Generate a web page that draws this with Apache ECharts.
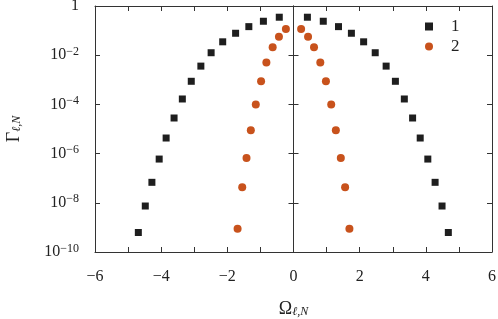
<!DOCTYPE html>
<html>
<head>
<meta charset="utf-8">
<style>
  html, body { margin: 0; padding: 0; background: #fff; }
  #chart { width: 498px; height: 319px; }
</style>
<script src="https://cdn.jsdelivr.net/npm/echarts@6/dist/echarts.min.js"></script>
</head>
<body>
<div id="chart"></div>
<script>
// series 1 (squares)
var x1 = [-4.69, -4.48, -4.28, -4.06, -3.85, -3.61, -3.36, -3.09, -2.80, -2.49, -2.14, -1.75, -1.35, -0.91, -0.43,
  0.42, 0.90, 1.36, 1.75, 2.12, 2.47, 2.80, 3.08, 3.35, 3.60, 3.83, 4.06, 4.28, 4.49, 4.68]
var y1 = [6.2e-10, 7.4e-9, 6.8e-8, 6.0e-7, 4.3e-6, 2.8e-5, 1.66e-4, 8.7e-4, 3.6e-3, 1.26e-2, 3.5e-2, 7.8e-2, 0.145, 0.24, 0.35,
  0.35, 0.24, 0.145, 7.8e-2, 3.5e-2, 1.26e-2, 3.6e-3, 8.7e-4, 1.66e-4, 2.8e-5, 4.3e-6, 6.0e-7, 6.8e-8, 7.4e-9, 6.2e-10]
// series 2 (circles)
var x2 = [-1.69, -1.55, -1.42, -1.29, -1.14, -0.98, -0.82, -0.63, -0.44, -0.23,
  0.23, 0.44, 0.62, 0.81, 0.98, 1.14, 1.28, 1.43, 1.56, 1.69]
var y2 = [8.9e-10, 4.3e-8, 6.6e-7, 8.9e-6, 9.8e-5, 8.7e-4, 5.1e-3, 2.1e-2, 5.6e-2, 0.117,
  0.117, 5.6e-2, 2.1e-2, 5.1e-3, 8.7e-4, 9.8e-5, 8.9e-6, 6.6e-7, 4.3e-8, 8.9e-10]
var seriesNames = ['1', '2']
var xTicks = [-6, -4, -2, 0, 2, 4, 6]

var font = 'Liberation Serif'
var axisColor = '#333'

function pairs(xs, ys) {
  var out = []
  for (var i = 0; i < xs.length; i++) out.push([xs[i], ys[i]])
  return out
}

function yLabel(v) {
  var e = Math.round(Math.log10(v))
  if (e === 0) return '{b|1}'
  return '{b|10}{s|\u2212' + (-e) + '}'
}

function xLabel(v) {
  if (xTicks.indexOf(v) < 0) return ''
  return v < 0 ? '\u2212' + (-v) : String(v)
}

var baseY = {
  type: 'log',
  logBase: 10,
  min: 1e-10,
  max: 1,
  interval: 2,
  splitLine: { show: false },
  axisLine: { onZero: false, lineStyle: { color: axisColor, width: 1 } },
  axisTick: { inside: true, length: 5, lineStyle: { color: axisColor } },
  axisLabel: { show: false }
}

var baseX = {
  type: 'value',
  min: -6,
  max: 6,
  interval: 1,
  splitLine: { show: false },
  axisLine: { onZero: false, lineStyle: { color: axisColor, width: 1 } },
  axisTick: { inside: true, length: 5, lineStyle: { color: axisColor } },
  axisLabel: { show: false }
}

var myChart = echarts.init(document.getElementById('chart'))
var option = {
  animation: false,
  backgroundColor: '#fff',
  grid: { left: 95, right: 6, top: 6, bottom: 67, outerBoundsMode: 'none' },
  legend: {
    orient: 'vertical',
    left: 420,
    top: 13,
    itemWidth: 8,
    itemHeight: 8,
    itemGap: 3,
    textStyle: { fontFamily: font, fontSize: 17, color: '#222', padding: [0, 0, 0, 13] },
    data: seriesNames
  },
  xAxis: [
    Object.assign({}, baseX, {
      position: 'bottom',
      axisLabel: { show: true, formatter: xLabel, fontFamily: font, fontSize: 16, color: '#222', margin: 17 },
      name: '{b|\u03A9}{i|\u2113,N}',
      nameLocation: 'middle',
      nameGap: 48,
      nameTextStyle: {
        rich: {
          b: { fontFamily: font, fontSize: 18, color: '#222' },
          i: { fontFamily: font, fontSize: 12, fontStyle: 'italic', color: '#222', verticalAlign: 'bottom', padding: [6, 0, 0, 0] }
        }
      }
    }),
    Object.assign({}, baseX, { position: 'top' })
  ],
  yAxis: [
    Object.assign({}, baseY, {
      position: 'left',
      axisLabel: {
        show: true,
        formatter: yLabel,
        margin: 16,
        rich: {
          b: { fontFamily: font, fontSize: 16, color: '#222' },
          s: { fontFamily: font, fontSize: 12, color: '#222', verticalAlign: 'top', padding: [0, 0, 7, 0] }
        }
      },
      name: '{b|\u0393}{i|\u2113,N}',
      nameLocation: 'middle',
      nameRotate: 90,
      nameGap: 72,
      nameTextStyle: {
        rich: {
          b: { fontFamily: font, fontSize: 18, color: '#222' },
          i: { fontFamily: font, fontSize: 12, fontStyle: 'italic', color: '#222', verticalAlign: 'bottom', padding: [6, 0, 0, 0] }
        }
      }
    }),
    Object.assign({}, baseY, { position: 'right' }),
    // vertical line at x = 0, ticks on both sides
    Object.assign({}, baseY, { position: 'left', axisLine: { onZero: true, lineStyle: { color: axisColor, width: 1 } } }),
    Object.assign({}, baseY, {
      position: 'left',
      axisLine: { onZero: true, lineStyle: { color: axisColor, width: 1 } },
      axisTick: { inside: false, length: 5, lineStyle: { color: axisColor } }
    })
  ],
  series: [
    {
      name: seriesNames[0],
      type: 'scatter',
      symbol: 'rect',
      symbolSize: 7,
      itemStyle: { color: '#1e1e1e', opacity: 1 },
      data: pairs(x1, y1)
    },
    {
      name: seriesNames[1],
      type: 'scatter',
      symbol: 'circle',
      symbolSize: 8,
      itemStyle: { color: '#c8521c', opacity: 1 },
      data: pairs(x2, y2)
    }
  ]
}
myChart.setOption(option)
</script>
</body>
</html>
